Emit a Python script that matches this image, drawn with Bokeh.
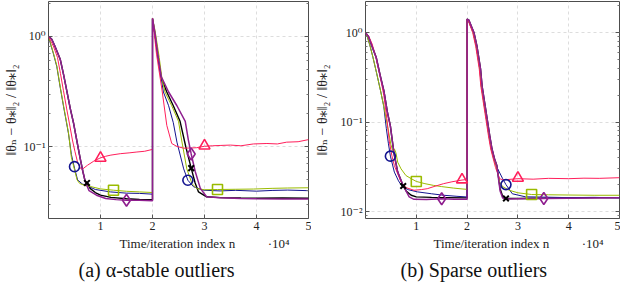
import numpy as np
from bokeh.plotting import figure
from bokeh.models import FixedTicker, LogAxis, Range1d, Title
from bokeh.layouts import row
from bokeh.embed import file_html
from bokeh.resources import INLINE

FONT = "'Liberation Serif', 'DejaVu Serif', serif"

# ---------------- data (x in units of 10^4 iterations) ----------------
x_ticks = [1, 2, 3, 4, 5]
x_tick_labels = ["1", "2", "3", "4", "5"]
a_y_ticks = [0.1, 1.0]
a_y_tick_labels = ["10⁻¹", "10⁰"]
b_y_ticks = [0.01, 0.1, 1.0]
b_y_tick_labels = ["10⁻²", "10⁻¹", "10⁰"]
x_scale_note = "·10⁴"

# panel (a): alpha-stable outliers
a_blue_x = [0, 0.04, 0.096, 0.16, 0.225, 0.29, 0.385, 0.44, 0.5, 0.56, 0.65, 0.73, 0.9, 1.19, 1.5, 1.75, 2.0,
            2.0, 2.05, 2.11, 2.17, 2.21, 2.31, 2.40, 2.47, 2.6, 2.68, 2.79, 2.98, 3.3, 3.6, 4.0, 4.3, 4.6, 5.0]
a_blue_y = [1.0, 0.85, 0.69, 0.53, 0.345, 0.23, 0.131, 0.085, 0.064, 0.05, 0.046, 0.0446, 0.041, 0.039, 0.038, 0.0378, 0.0372,
            1.45, 1.0, 0.62, 0.41, 0.313, 0.235, 0.165, 0.11, 0.063, 0.0497, 0.0434, 0.0404, 0.0398, 0.0403, 0.0396, 0.0402, 0.0405, 0.0400]
a_green_x = [0, 0.04, 0.096, 0.16, 0.225, 0.29, 0.385, 0.44, 0.5, 0.55, 0.6, 0.7, 0.81, 1.0, 1.25, 1.5, 1.75, 2.0,
             2.0, 2.05, 2.13, 2.18, 2.24, 2.37, 2.5, 2.56, 2.66, 2.76, 2.85, 3.0, 3.25, 3.6, 3.94, 4.3, 4.6, 5.0]
a_green_y = [1.0, 0.86, 0.70, 0.54, 0.35, 0.235, 0.133, 0.08, 0.062, 0.05, 0.0465, 0.0445, 0.0436, 0.0415, 0.0404, 0.0395, 0.039, 0.0385,
             1.45, 1.12, 0.64, 0.42, 0.313, 0.235, 0.17, 0.115, 0.063, 0.0464, 0.0418, 0.0408, 0.041, 0.0412, 0.0414, 0.042, 0.0423, 0.0425]
a_red_x = [0, 0.05, 0.1, 0.173, 0.23, 0.288, 0.35, 0.404, 0.46, 0.51, 0.56, 0.61, 0.65, 0.75, 0.87, 0.99, 1.1, 1.2, 1.38, 1.55,
           1.7, 1.85, 2.0, 2.0, 2.04, 2.077, 2.18, 2.275, 2.37, 2.47, 2.6, 2.75, 2.85, 3.0, 3.15, 3.3, 3.5, 3.7, 3.94, 4.2,
           4.4, 4.58, 4.8, 5.0]
a_red_y = [1.0, 0.9, 0.8, 0.643, 0.46, 0.321, 0.22, 0.161, 0.115, 0.09, 0.072, 0.064, 0.0625, 0.068, 0.074, 0.079, 0.082, 0.084, 0.0865, 0.088,
           0.0896, 0.091, 0.0946, 1.45, 1.0, 0.69, 0.333, 0.156, 0.107, 0.1006, 0.097, 0.0975, 0.098, 0.101, 0.102, 0.1027, 0.1035, 0.102, 0.106, 0.107,
           0.106, 0.11, 0.111, 0.116]
a_purple_x = [0, 0.063, 0.12, 0.225, 0.29, 0.352, 0.42, 0.48, 0.55, 0.61, 0.66, 0.706, 0.78, 0.923, 1.1, 1.3, 1.5, 1.75, 2.0,
              2.0, 2.05, 2.11, 2.17, 2.31, 2.47, 2.63, 2.69, 2.744, 2.82, 2.92, 3.04, 3.3, 3.7, 4.0, 4.5, 5.0]
a_purple_y = [1.0, 0.94, 0.82, 0.62, 0.45, 0.321, 0.22, 0.165, 0.11, 0.078, 0.06, 0.0484, 0.04, 0.0364, 0.034, 0.0332, 0.0328, 0.0327, 0.0325,
              1.45, 1.05, 0.64, 0.43, 0.313, 0.235, 0.17, 0.115, 0.086, 0.06, 0.042, 0.0352, 0.0345, 0.034, 0.0338, 0.0337, 0.0336]
a_black_x = [0, 0.063, 0.12, 0.225, 0.29, 0.352, 0.42, 0.48, 0.55, 0.61, 0.66, 0.706, 0.74, 0.8, 0.9, 1.0, 1.2, 1.5, 1.75, 2.0,
             2.0, 2.05, 2.11, 2.17, 2.275, 2.40, 2.53, 2.64, 2.744, 2.82, 2.885, 3.04, 3.3, 3.7, 4.0, 4.5, 5.0]
a_black_y = [1.0, 0.94, 0.82, 0.62, 0.45, 0.321, 0.22, 0.165, 0.11, 0.078, 0.06, 0.0484, 0.047, 0.042, 0.0385, 0.0365, 0.0348, 0.0338, 0.0333, 0.0332,
             1.45, 1.02, 0.63, 0.42, 0.313, 0.235, 0.17, 0.1, 0.064, 0.047, 0.039, 0.0352, 0.0346, 0.0343, 0.0342, 0.0343, 0.0342]
a_blue_mx, a_blue_my = [0.5, 2.68], [0.066, 0.0497]
a_black_mx, a_black_my = [0.74, 2.744], [0.047, 0.064]
a_red_mx, a_red_my = [1.0, 3.0], [0.079, 0.102]
a_green_mx, a_green_my = [1.25, 3.25], [0.0404, 0.041]
a_purple_mx, a_purple_my = [1.5, 2.744], [0.0328, 0.086]

# panel (b): sparse outliers
b_green_x = [0, 0.04, 0.083, 0.149, 0.22, 0.297, 0.36, 0.426, 0.47, 0.5, 0.535, 0.57, 0.6, 0.634, 0.7, 0.795, 0.9, 1.0, 1.17, 1.34,
             1.5, 1.73, 1.9, 2.0, 2.0, 2.02, 2.12, 2.18, 2.25, 2.28, 2.33, 2.38, 2.43, 2.475, 2.525, 2.57, 2.6, 2.64, 2.7, 2.83,
             3.0, 3.27, 3.6, 4.0, 4.5, 5.0]
b_green_y = [1.0, 0.88, 0.735, 0.523, 0.35, 0.223, 0.15, 0.095, 0.07, 0.056, 0.048, 0.05, 0.045, 0.0356, 0.03, 0.0253, 0.0233, 0.0217, 0.0205, 0.0196,
             0.019, 0.0183, 0.0179, 0.0177, 1.42, 1.38, 1.0, 0.70, 0.39, 0.253, 0.165, 0.108, 0.0705, 0.05, 0.0388, 0.0327, 0.027, 0.0214, 0.019, 0.0173,
             0.0162, 0.0155, 0.0154, 0.0153, 0.0152, 0.0152]
b_blue_x = [0, 0.04, 0.083, 0.149, 0.22, 0.297, 0.36, 0.41, 0.45, 0.49, 0.568, 0.65, 0.73, 0.85, 1.02, 1.3, 1.54, 1.8, 2.0,
            2.0, 2.02, 2.12, 2.18, 2.25, 2.28, 2.33, 2.38, 2.43, 2.475, 2.525, 2.57, 2.6, 2.7, 2.765, 2.89, 3.15, 3.5, 4.0, 4.5, 5.0]
b_blue_y = [1.0, 0.88, 0.735, 0.523, 0.35, 0.223, 0.15, 0.085, 0.058, 0.0416, 0.0276, 0.022, 0.0188, 0.0175, 0.0166, 0.0158, 0.0152, 0.0148, 0.01455,
            1.42, 1.38, 1.0, 0.70, 0.39, 0.253, 0.165, 0.108, 0.0705, 0.05, 0.0388, 0.0327, 0.0302, 0.0233, 0.02, 0.0158, 0.0146, 0.0145, 0.0143, 0.0144, 0.0142]
b_red_x = [0, 0.06, 0.13, 0.2, 0.3, 0.36, 0.42, 0.47, 0.52, 0.568, 0.7, 0.8, 0.955, 1.1, 1.215, 1.37, 1.537, 1.7, 1.9, 2.0,
           2.0, 2.02, 2.11, 2.17, 2.24, 2.27, 2.32, 2.37, 2.42, 2.465, 2.515, 2.56, 2.61, 2.64, 2.7, 2.8, 3.0, 3.3, 3.6, 4.0,
           4.3, 4.6, 5.0]
b_red_y = [1.0, 0.92, 0.75, 0.54, 0.3, 0.2, 0.11, 0.06, 0.042, 0.0327, 0.0214, 0.0185, 0.0173, 0.0176, 0.018, 0.0192, 0.0205, 0.0215, 0.0225, 0.0228,
           1.42, 1.38, 1.0, 0.70, 0.39, 0.253, 0.165, 0.108, 0.0705, 0.05, 0.0388, 0.031, 0.026, 0.0233, 0.0227, 0.0228, 0.0233, 0.023, 0.0235, 0.0233,
           0.0236, 0.0235, 0.0239]
b_purple_x = [0, 0.06, 0.116, 0.213, 0.29, 0.362, 0.43, 0.49, 0.56, 0.634, 0.742, 0.86, 0.955, 1.2, 1.5, 1.75, 2.0,
              2.0, 2.035, 2.135, 2.195, 2.265, 2.295, 2.345, 2.395, 2.445, 2.49, 2.54, 2.585, 2.615, 2.65, 2.7, 2.8, 3.0, 3.51, 4.0, 4.5, 5.0]
b_purple_y = [1.0, 0.9, 0.735, 0.523, 0.33, 0.223, 0.13, 0.09, 0.045, 0.0276, 0.0195, 0.0146, 0.0137, 0.0136, 0.0139, 0.0137, 0.0137,
              1.42, 1.38, 1.0, 0.70, 0.39, 0.253, 0.165, 0.108, 0.0705, 0.05, 0.0388, 0.0327, 0.024, 0.017, 0.0142, 0.0138, 0.0139, 0.014, 0.0141, 0.0142, 0.0143]
b_black_x = [0, 0.06, 0.116, 0.213, 0.29, 0.362, 0.43, 0.49, 0.56, 0.634, 0.742, 0.8, 0.9, 1.0, 1.3, 1.6, 2.0,
             2.0, 2.035, 2.135, 2.195, 2.265, 2.295, 2.345, 2.395, 2.445, 2.49, 2.54, 2.585, 2.615, 2.65, 2.7, 2.765, 3.0, 3.5, 4.0, 4.5, 5.0]
b_black_y = [1.0, 0.9, 0.735, 0.523, 0.33, 0.223, 0.13, 0.09, 0.045, 0.0276, 0.0193, 0.017, 0.0152, 0.0146, 0.0144, 0.0143, 0.0142,
             1.42, 1.38, 1.0, 0.70, 0.39, 0.253, 0.165, 0.108, 0.0705, 0.05, 0.0388, 0.0327, 0.025, 0.018, 0.0148, 0.014, 0.014, 0.0141, 0.0142, 0.0143, 0.0143]
b_blue_mx, b_blue_my = [0.49, 2.765], [0.0416, 0.02]
b_black_mx, b_black_my = [0.742, 2.765], [0.0193, 0.014]
b_green_mx, b_green_my = [1.0, 3.27], [0.0217, 0.0155]
b_purple_mx, b_purple_my = [1.5, 3.51], [0.0139, 0.014]
b_red_mx, b_red_my = [1.9, 3.0], [0.0227, 0.0237]

# ---------------- styling ----------------
COL = {"blue": "#13138f", "black": "#000000", "green": "#9abb00", "red": "#ff1f5b", "purple": "#8f1f8f"}
MARK = {"blue": ("circle", 10), "black": ("x", 8), "green": ("square", 10), "red": ("triangle", 11), "purple": ("diamond", 12)}
LW = {"blue": 1.0, "black": 1.4, "green": 1.0, "red": 1.0, "purple": 1.5}
ORDER = ["black", "blue", "green", "red", "purple"]
MINOR = [m * 10.0 ** e for e in (-3, -2, -1, 0) for m in range(2, 10)]
YLABEL = "‖θₙ − θ⁎‖₂ / ‖θ⁎‖₂"
NB = "\u00a0"
XLABEL = NB * 16 + "Time/iteration index n" + NB * 10 + x_scale_note


def panel(series, markers, yr, yt, ytl, caption, cap_off, fw, bl, br, ylab_standoff):
    p = figure(frame_width=fw, frame_height=217, x_range=Range1d(0, 5), y_range=Range1d(*yr),
               y_axis_type="log", output_backend="svg", toolbar_location=None,
               min_border_left=bl, min_border_right=br, min_border_top=1, min_border_bottom=40)
    p.outline_line_color = "#4d4d4d"
    p.outline_line_width = 1
    for g, t in ((p.xgrid, x_ticks), (p.ygrid, yt)):
        g.ticker = FixedTicker(ticks=t)
        g.grid_line_color = "#d4d4d4"
        g.grid_line_dash = "3 3"
        g.grid_line_width = 0.8
    xa = p.xaxis[0]
    xa.ticker = FixedTicker(ticks=x_ticks)
    xa.major_label_overrides = dict(zip(x_ticks, x_tick_labels))
    ya = p.yaxis[0]
    ya.ticker = FixedTicker(ticks=yt, minor_ticks=MINOR)
    ya.major_label_overrides = dict(zip(yt, ytl))
    ya.axis_label = YLABEL
    ya.axis_label_text_font_size = "14px"
    ya.axis_label_standoff = ylab_standoff
    xa.axis_label = XLABEL
    xa.axis_label_text_font_size = "13px"
    xa.axis_label_standoff = 3
    for ax in (xa, ya):
        ax.axis_label_text_font = FONT
        ax.axis_label_text_font_style = "normal"
        ax.axis_label_text_color = "#222222"
        ax.major_label_text_font = FONT
        ax.major_label_text_font_size = "12px"
        ax.major_label_text_color = "#222222"
        ax.major_label_standoff = 3
        ax.axis_line_color = None
        ax.major_tick_in = 4
        ax.major_tick_out = 0
        ax.minor_tick_in = 2
        ax.minor_tick_out = 0
        ax.major_tick_line_color = "#555555"
        ax.minor_tick_line_color = "#777777"
    xa.minor_tick_line_color = None
    ra = LogAxis(ticker=FixedTicker(ticks=yt, minor_ticks=MINOR),
                 major_label_overrides={t: "" for t in yt},
                 major_label_standoff=0, axis_line_color=None, major_tick_in=4, major_tick_out=0,
                 minor_tick_in=2, minor_tick_out=0, major_tick_line_color="#555555",
                 minor_tick_line_color="#777777")
    p.add_layout(ra, "right")

    for k in ORDER:
        xs, ys = series[k]
        p.line(xs, ys, line_color=COL[k], line_width=LW[k])
    for k in ORDER:
        mx, my = markers[k]
        m, s = MARK[k]
        p.scatter(mx, my, marker=m, size=s, fill_color=None, line_color=COL[k],
                  line_width=2.0 if k == "black" else 1.6)

    p.add_layout(Title(text=caption, align="left", offset=cap_off, text_font=FONT,
                       text_font_size="20px", text_font_style="normal", text_color="#111111",
                       standoff=6), "below")
    return p


pa = panel({"blue": (a_blue_x, a_blue_y), "black": (a_black_x, a_black_y), "green": (a_green_x, a_green_y),
            "red": (a_red_x, a_red_y), "purple": (a_purple_x, a_purple_y)},
           {"blue": (a_blue_mx, a_blue_my), "black": (a_black_mx, a_black_my), "green": (a_green_mx, a_green_my),
            "red": (a_red_mx, a_red_my), "purple": (a_purple_mx, a_purple_my)},
           (0.0224, 2.065), a_y_ticks, a_y_tick_labels, "(a) α-stable outliers", 30, 260, 42, 3, 2)
pb = panel({"blue": (b_blue_x, b_blue_y), "black": (b_black_x, b_black_y), "green": (b_green_x, b_green_y),
            "red": (b_red_x, b_red_y), "purple": (b_purple_x, b_purple_y)},
           {"blue": (b_blue_mx, b_blue_my), "black": (b_black_mx, b_black_my), "green": (b_green_mx, b_green_my),
            "red": (b_red_mx, b_red_my), "purple": (b_purple_mx, b_purple_my)},
           (0.00836, 2.23), b_y_ticks, b_y_tick_labels, "(b) Sparse outliers", 35, 254, 50, 1, 8)

layout = row(pa, pb)
open("out.html", "w").write(file_html(layout, INLINE))
